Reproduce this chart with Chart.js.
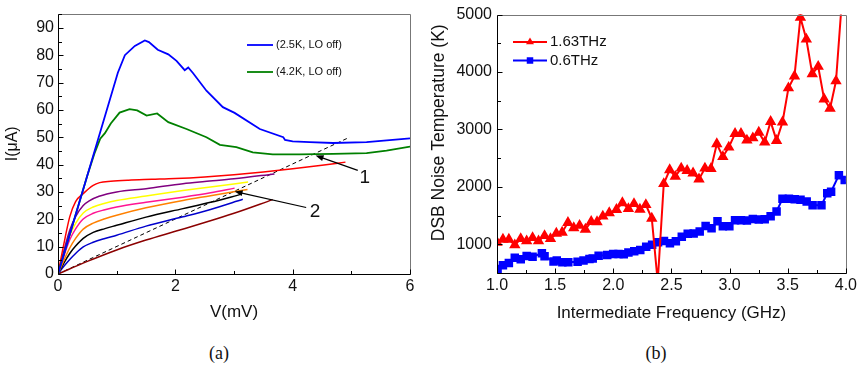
<!DOCTYPE html>
<html>
<head>
<meta charset="utf-8">
<script src="https://cdn.jsdelivr.net/npm/chart.js@4/dist/chart.umd.min.js"></script>
<style>
  body { margin: 0; background: #fff; width: 860px; height: 369px; position: relative; overflow: hidden; }
  .panel { position: absolute; top: 0; width: 430px; height: 330px; }
  #panelA { left: 0; }
  #panelB { left: 430px; }
  .cap { position: absolute; top: 342px; line-height: 22px; font-family: "Liberation Serif", serif; font-size: 18px; color: #111; transform: translateX(-50%); }
</style>
</head>
<body>
<div class="panel" id="panelA"><canvas id="ivChart"></canvas></div>
<div class="panel" id="panelB"><canvas id="noiseChart"></canvas></div>
<div class="cap" style="left:219px">(a)</div>
<div class="cap" style="left:656px">(b)</div>

<script>
// ---- (a) I-V curves, voltage in mV, current in uA ----
const vDark25 = [0, 0.5, 1.02, 1.14, 1.31, 1.48, 1.55, 1.7, 1.88, 2.02, 2.16, 2.22, 2.3, 2.53, 2.81, 3.01, 3.44, 3.84, 3.87, 4.0, 4.29, 4.69, 5.26, 6.0];
const iDark25 = [0, 36, 73.6, 80, 83.4, 85.4, 84.8, 82, 80.3, 77.9, 74.5, 75.5, 73.5, 67, 61, 58.9, 53, 50, 49, 48.5, 48.2, 47.9, 48.2, 49.6];
const vDark42 = [0, 0.5, 0.62, 0.72, 0.8, 0.9, 1.05, 1.22, 1.35, 1.51, 1.69, 1.88, 2.19, 2.53, 2.76, 3.04, 3.32, 3.66, 4.12, 4.69, 5.26, 5.6, 6.0];
const iDark42 = [0, 36, 44, 49.5, 51.5, 55, 59, 60.3, 59.8, 57.9, 58.7, 55.5, 53, 50, 47.2, 46.4, 44.5, 43.7, 43.7, 43.9, 44.2, 45.1, 46.6];

const vRed = [0, 0.1, 0.2, 0.3, 0.43, 0.6, 0.71, 0.9, 1.2, 1.6, 2.0, 2.5, 3.0, 3.5, 4.0, 4.5, 4.9];
const iRed = [0, 11, 20.9, 26.5, 29.4, 32.4, 33.4, 33.9, 34.3, 34.6, 34.9, 35.5, 36.3, 37.3, 38.5, 39.8, 40.9];
const vPurple = [0, 0.1, 0.2, 0.3, 0.43, 0.54, 0.7, 1.0, 1.5, 2.13, 2.5, 3.0, 3.69];
const iPurple = [0, 8.5, 16, 21, 25, 26.8, 28.4, 30, 31.2, 33, 33.8, 34.8, 36.6];
const vYellow = [0, 0.1, 0.2, 0.3, 0.43, 0.6, 0.8, 1.0, 1.5, 2.13, 2.6, 3.24];
const iYellow = [0, 7.5, 14, 18.5, 22.3, 24.5, 25.9, 26.9, 28.5, 30.5, 31.8, 33.6];
const vPink = [0, 0.1, 0.2, 0.3, 0.43, 0.6, 0.8, 1.0, 1.5, 2.13, 2.6, 3.01];
const iPink = [0, 6.5, 12.5, 16.5, 20.1, 22.2, 23.5, 24.5, 26.2, 28.1, 29.7, 31.4];
const vOrange = [0, 0.1, 0.2, 0.3, 0.43, 0.6, 0.8, 1.0, 1.5, 2.13, 2.6, 3.23];
const iOrange = [0, 5, 9.5, 13, 16.4, 18.6, 20.2, 21.5, 24.2, 26.9, 28.6, 30.9];
const vBlack = [0, 0.1, 0.2, 0.3, 0.43, 0.6, 0.8, 1.0, 1.5, 2.13, 2.6, 3.13];
const iBlack = [0, 4, 7.5, 10.2, 13, 15.2, 16.6, 17.8, 20.8, 23.9, 26.2, 29.2];
const vNavy = [0, 0.1, 0.2, 0.3, 0.43, 0.6, 0.8, 1.0, 1.5, 2.13, 2.6, 3.15];
const iNavy = [0, 2.8, 5.3, 7.5, 9.9, 11.6, 13, 14.2, 17.5, 20.9, 23.6, 27.3];
const vBrown = [0, 0.5, 1, 1.5, 2, 2.5, 3, 3.66];
const iBrown = [0, 4.6, 8.8, 12.4, 15.6, 18.8, 22.2, 27.2];
const vLoad = [0, 4.97];
const iLoad = [0, 50];

// arrows: tail and tip in (V, I), plus where the number sits
const arrow1 = { tail: [5.11, 37.9], tip: [4.39, 43.3], at: [5.23, 35.2], text: '1' };
const arrow2 = { tail: [4.23, 24.3], tip: [3.01, 30.2], at: [4.38, 22.6], text: '2' };

const ivTicksX = [0, 2, 4, 6];
const ivMinorX = [1, 3, 5];
const ivTicksY = [0, 10, 20, 30, 40, 50, 60, 70, 80, 90];
const ivMinorY = [5, 15, 25, 35, 45, 55, 65, 75, 85, 95];

// ---- (b) DSB noise temperature vs IF ----
const freqHigh = [1.0, 1.051, 1.102, 1.153, 1.204, 1.255, 1.306, 1.357, 1.409, 1.46, 1.51, 1.56, 1.61, 1.66, 1.71, 1.76, 1.81, 1.86, 1.91, 1.965,
  2.027, 2.078, 2.13, 2.178, 2.229, 2.28, 2.331, 2.382, 2.434, 2.485, 2.533, 2.584, 2.635, 2.686, 2.737, 2.788, 2.84, 2.89, 2.942, 2.993,
  3.047, 3.098, 3.149, 3.2, 3.251, 3.302, 3.353, 3.404, 3.455, 3.506, 3.558, 3.609, 3.66, 3.711, 3.762, 3.813, 3.864, 3.915, 3.966];
const tempHigh = [1034, 1086, 1086, 988, 1096, 1057, 1114, 1057, 1148, 1096, 1189, 1206, 1378, 1286, 1327, 1258, 1395, 1389, 1487, 1547,
  1602, 1722, 1619, 1705, 1607, 1688, 1452, 350, 2054, 2295, 2180, 2324, 2283, 2238, 2135, 2324, 2317, 2747, 2524, 2690,
  2926, 2926, 2811, 2851, 2948, 2776, 3137, 2806, 3126, 3722, 3929, 4950, 4570, 3968, 4095, 3528, 3366, 3843, 5250];
const freqLow = [1.005, 1.051, 1.102, 1.153, 1.204, 1.255, 1.306, 1.386, 1.409, 1.486, 1.514, 1.562, 1.613, 1.693, 1.744, 1.795, 1.823, 1.874, 1.948, 1.999,
  2.045, 2.09, 2.13, 2.18, 2.232, 2.283, 2.334, 2.385, 2.436, 2.487, 2.538, 2.589, 2.64, 2.691, 2.743, 2.794, 2.845, 2.896, 2.942, 2.998,
  3.047, 3.098, 3.149, 3.2, 3.251, 3.302, 3.353, 3.404, 3.455, 3.51, 3.56, 3.61, 3.663, 3.714, 3.79, 3.84, 3.873, 3.94, 3.99];
const tempLow = [570, 635, 675, 767, 738, 797, 785, 845, 790, 700, 718, 686, 686, 696, 718, 742, 752, 799, 815, 830,
  832, 825, 855, 880, 902, 959, 993, 1034, 1057, 1017, 1052, 1131, 1182, 1189, 1224, 1320, 1280, 1401, 1315, 1315,
  1418, 1418, 1413, 1440, 1430, 1435, 1487, 1573, 1791, 1791, 1784, 1774, 1745, 1681, 1681, 1887, 1917, 2204, 2118];

const nfTicksX = [1.0, 1.5, 2.0, 2.5, 3.0, 3.5, 4.0];
const nfMinorX = [1.25, 1.75, 2.25, 2.75, 3.25, 3.75];
const nfTicksY = [1000, 2000, 3000, 4000, 5000];
const nfMinorY = [500, 1500, 2500, 3500, 4500];

const FONT = '"Liberation Sans", Arial, sans-serif';
const INK = '#111';
const pts = (xs, ys) => xs.map((v, i) => ({ x: v, y: ys[i] }));

// box around the plot area plus short inward tick marks
const frameAndTicks = {
    id: 'frameAndTicks',
    afterDatasetsDraw(chart, args, o) {
        const { ctx, chartArea: a, scales: { x, y } } = chart;
        const L = Math.round(a.left) + 0.5, R = Math.round(a.right) + 0.5;
        const T = Math.round(a.top) + 0.5, B = Math.round(a.bottom) + 0.5;
        ctx.save();
        ctx.lineWidth = 1;
        ctx.strokeStyle = '#777';
        ctx.beginPath();
        ctx.moveTo(L, T); ctx.lineTo(R, T); ctx.lineTo(R, B);
        ctx.stroke();
        ctx.strokeStyle = '#000';
        ctx.beginPath();
        ctx.moveTo(L, T); ctx.lineTo(L, B); ctx.lineTo(R, B);
        o.xMajor.concat(o.xMinor).forEach((v) => {
            const px = Math.round(x.getPixelForValue(v)) + 0.5;
            const len = o.xMajor.includes(v) ? 5 : 3.5;
            ctx.moveTo(px, B); ctx.lineTo(px, B - len);
        });
        o.yMajor.concat(o.yMinor).forEach((v) => {
            if (v < y.min || v > y.max) return;
            const py = Math.round(y.getPixelForValue(v)) + 0.5;
            const len = o.yMajor.includes(v) ? 5 : 3.5;
            ctx.moveTo(L, py); ctx.lineTo(L + len, py);
        });
        ctx.stroke();
        ctx.restore();
    }
};

// rotated title beside the value axis, with an adjustable vertical centre
const sideTitle = {
    id: 'sideTitle',
    afterDraw(chart, args, o) {
        if (!o.text) return;
        const { ctx, chartArea: a } = chart;
        ctx.save();
        ctx.translate(o.x, (a.top + a.bottom) / 2 + (o.shift || 0));
        ctx.rotate(-Math.PI / 2);
        ctx.font = o.font;
        ctx.fillStyle = INK;
        ctx.textAlign = 'center';
        ctx.textBaseline = 'middle';
        ctx.fillText(o.text, 0, 0);
        ctx.restore();
    }
};

// small legend drawn inside the plot area for datasets that carry a label
const inlineLegend = {
    id: 'inlineLegend',
    afterDraw(chart, args, o) {
        const { ctx } = chart;
        ctx.save();
        let row = 0;
        chart.data.datasets.forEach((ds) => {
            if (!ds.label) return;
            const y = o.top + row * o.rowGap;
            ctx.strokeStyle = ds.borderColor;
            ctx.lineWidth = ds.borderWidth;
            ctx.beginPath();
            ctx.moveTo(o.left, y);
            ctx.lineTo(o.left + o.lineLen, y);
            ctx.stroke();
            if (ds.pointRadius) {
                ctx.fillStyle = ds.backgroundColor;
                Chart.helpers.drawPoint(ctx, { pointStyle: ds.pointStyle, radius: ds.pointRadius, borderWidth: 0, rotation: 0 }, o.left + o.lineLen / 2, y);
            }
            ctx.fillStyle = INK;
            ctx.font = o.font;
            ctx.textBaseline = 'middle';
            ctx.fillText(ds.label, o.left + o.lineLen + o.gap, y);
            row++;
        });
        ctx.restore();
    }
};

// numbered arrows pointing at the operating points
const pointerArrows = {
    id: 'pointerArrows',
    afterDatasetsDraw(chart, args, o) {
        const { ctx, scales: { x, y } } = chart;
        ctx.save();
        o.items.forEach((a) => {
            const x0 = x.getPixelForValue(a.tail[0]), y0 = y.getPixelForValue(a.tail[1]);
            const x1 = x.getPixelForValue(a.tip[0]), y1 = y.getPixelForValue(a.tip[1]);
            const ang = Math.atan2(y1 - y0, x1 - x0);
            const head = 8, wing = 3;
            ctx.strokeStyle = '#000';
            ctx.fillStyle = '#000';
            ctx.lineWidth = 1.2;
            ctx.beginPath();
            ctx.moveTo(x0, y0);
            ctx.lineTo(x1 - Math.cos(ang) * head * 0.8, y1 - Math.sin(ang) * head * 0.8);
            ctx.stroke();
            ctx.beginPath();
            ctx.moveTo(x1, y1);
            ctx.lineTo(x1 - Math.cos(ang) * head - Math.sin(ang) * wing, y1 - Math.sin(ang) * head + Math.cos(ang) * wing);
            ctx.lineTo(x1 - Math.cos(ang) * head + Math.sin(ang) * wing, y1 - Math.sin(ang) * head - Math.cos(ang) * wing);
            ctx.closePath();
            ctx.fill();
            ctx.font = '19px ' + FONT;
            ctx.textAlign = 'center';
            ctx.textBaseline = 'middle';
            ctx.fillStyle = INK;
            ctx.fillText(a.text, x.getPixelForValue(a.at[0]), y.getPixelForValue(a.at[1]));
        });
        ctx.restore();
    }
};

function axis(min, max, major, opts) {
    return {
        type: 'linear', min, max,
        afterBuildTicks: (s) => { s.ticks = major.map((v) => ({ value: v })); },
        afterFit: opts.fit,
        grid: { display: false, drawTicks: false },
        border: { display: false },
        ticks: { padding: opts.pad, color: INK, font: { family: FONT, size: 16 }, callback: opts.fmt || ((v) => v) },
        title: { display: !!opts.title, text: opts.title || '', color: INK, font: { family: FONT, size: opts.titleSize }, padding: opts.titlePad }
    };
}

const curve = (vs, is, color, width, extra) => Object.assign({ data: pts(vs, is), borderColor: color, backgroundColor: color, borderWidth: width }, extra || {});
const smooth = { cubicInterpolationMode: 'monotone' };

new Chart(document.getElementById('ivChart'), {
    type: 'line',
    data: {
        datasets: [
            curve(vDark25, iDark25, '#0000ff', 1.8, { label: '(2.5K, LO off)' }),
            curve(vDark42, iDark42, '#008000', 1.8, { label: '(4.2K, LO off)' }),
            curve(vRed, iRed, '#ff0000', 1.5, smooth),
            curve(vPurple, iPurple, '#800080', 1.5, smooth),
            curve(vYellow, iYellow, '#ffff00', 1.5, smooth),
            curve(vPink, iPink, '#ff1493', 1.5, smooth),
            curve(vOrange, iOrange, '#ff8000', 1.5, smooth),
            curve(vBlack, iBlack, '#000000', 1.5, smooth),
            curve(vNavy, iNavy, '#0000cc', 1.5, smooth),
            curve(vBrown, iBrown, '#8b0000', 1.5, smooth),
            curve(vLoad, iLoad, '#000000', 1, { borderDash: [4, 3] })
        ]
    },
    options: {
        responsive: true, maintainAspectRatio: false, animation: false,
        layout: { padding: { top: 12, right: 20, left: 0, bottom: 0 } },
        elements: { point: { radius: 0 }, line: { tension: 0, fill: false } },
        plugins: {
            legend: { display: false }, tooltip: { enabled: false },
            frameAndTicks: { xMajor: ivTicksX, xMinor: ivMinorX, yMajor: ivTicksY, yMinor: ivMinorY },
            sideTitle: { text: 'I(\u03bcA)', x: 12.5, shift: 0, font: '16px ' + FONT },
            inlineLegend: { left: 247, top: 45, rowGap: 27, lineLen: 26, gap: 3, font: '11px ' + FONT },
            pointerArrows: { items: [arrow1, arrow2] }
        },
        scales: {
            x: axis(0, 6, ivTicksX, { title: 'V(mV)', titleSize: 17, titlePad: { top: 0, bottom: 7 }, pad: 3, fit: (s) => { s.height = 56; } }),
            y: axis(0, 95.2, ivTicksY, { pad: 4, fit: (s) => { s.width = 58; } })
        }
    },
    plugins: [frameAndTicks, sideTitle, inlineLegend, pointerArrows]
});

new Chart(document.getElementById('noiseChart'), {
    type: 'line',
    data: {
        datasets: [
            curve(freqHigh, tempHigh, '#ff0000', 2, { label: '1.63THz', pointStyle: 'triangle', pointRadius: 4.6 }),
            curve(freqLow, tempLow, '#0000ff', 2, { label: '0.6THz', pointStyle: 'rect', pointRadius: 4.6 })
        ]
    },
    options: {
        responsive: true, maintainAspectRatio: false, animation: false,
        layout: { padding: { top: 12, right: 11, left: 0, bottom: 0 } },
        elements: { point: { borderWidth: 0 }, line: { tension: 0, fill: false } },
        plugins: {
            legend: { display: false }, tooltip: { enabled: false },
            frameAndTicks: { xMajor: nfTicksX, xMinor: nfMinorX, yMajor: nfTicksY, yMinor: nfMinorY },
            sideTitle: { text: 'DSB Noise Temperature (K)', x: 9.5, shift: -11, font: '17.5px ' + FONT },
            inlineLegend: { left: 83, top: 42, rowGap: 18.5, lineLen: 34, gap: 3, font: '15px ' + FONT }
        },
        scales: {
            x: axis(1, 4, nfTicksX, { title: 'Intermediate Frequency (GHz)', titleSize: 17, titlePad: { top: 0, bottom: 6 }, pad: 3, fmt: (v) => v.toFixed(1), fit: (s) => { s.height = 57; } }),
            y: axis(500, 5000, nfTicksY, { pad: 5, fit: (s) => { s.width = 67; } })
        }
    },
    plugins: [frameAndTicks, sideTitle, inlineLegend]
});
</script>
</body>
</html>
